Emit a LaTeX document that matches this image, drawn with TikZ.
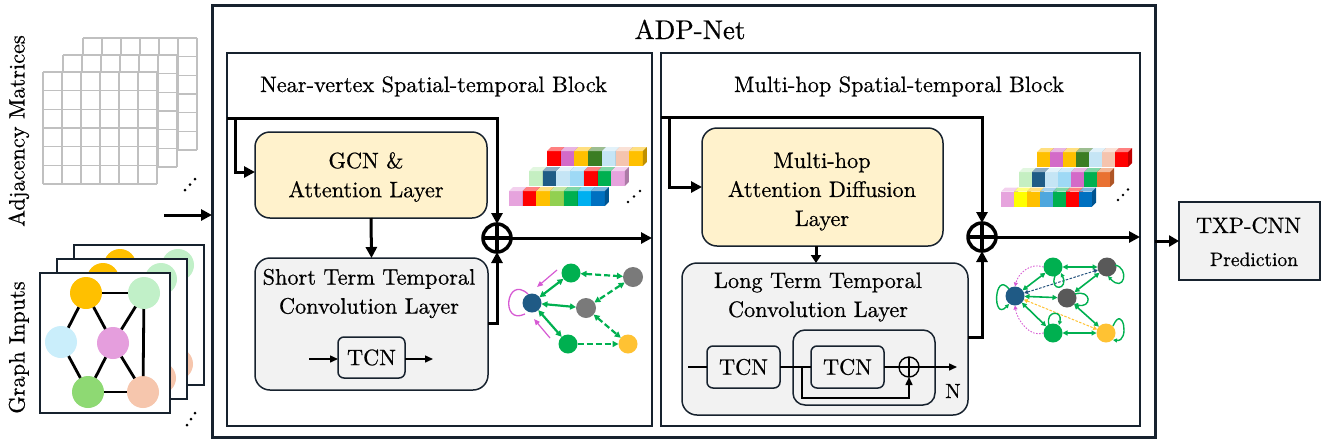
\documentclass[tikz,border=0pt]{standalone}
\usepackage{fontspec}
\newfontfamily\tms{lmroman10-regular.otf}[FakeBold=0.6]
\usetikzlibrary{arrows.meta,calc}
\definecolor{frm}{HTML}{17222E}
\definecolor{ylw}{HTML}{FFF2CC}
\definecolor{lgr}{HTML}{F2F2F2}
\definecolor{grn}{HTML}{00B050}
\definecolor{nbl}{HTML}{1F5A85}
\definecolor{ngy}{HTML}{7A7A7A}
\definecolor{ndg}{HTML}{595959}
\definecolor{ngd}{HTML}{FFC233}
\definecolor{mag}{HTML}{D65AD3}
\definecolor{gridc}{HTML}{C0C0C0}
\definecolor{dbl}{HTML}{1F4E79}
% graph input colours
\definecolor{gY}{HTML}{FFC000}
\definecolor{gLG}{HTML}{C1F0C8}
\definecolor{gLB}{HTML}{CAEEFB}
\definecolor{gPk}{HTML}{E59EDD}
\definecolor{gG}{HTML}{8ED973}
\definecolor{gPe}{HTML}{F6C6AD}
% cube colours
\definecolor{cRed}{HTML}{FF0000}
\definecolor{cOrch}{HTML}{D36AC8}
\definecolor{cGold}{HTML}{FFC000}
\definecolor{cDkG}{HTML}{3B7D23}
\definecolor{cLBl}{HTML}{C5E5F5}
\definecolor{cPeach}{HTML}{F5C4AE}
\definecolor{cLGr}{HTML}{C5EFC2}
\definecolor{cTeal}{HTML}{1F5C86}
\definecolor{cSky}{HTML}{9ED9F5}
\definecolor{cGrn}{HTML}{00B050}
\definecolor{cPink}{HTML}{E6A3DD}
\definecolor{cLime}{HTML}{92D050}
\definecolor{cCyan}{HTML}{00B0F0}
\definecolor{cBlue}{HTML}{0070C0}
\definecolor{cYel}{HTML}{FFFF00}
\definecolor{cSkyB}{HTML}{4EA7DE}
\definecolor{cOrg}{HTML}{E97132}
\newcommand{\cubeat}[4]{%
  \fill[#4] (#1,#2) rectangle ++(#3,15);
  \fill[#4!50!white] (#1,#2) -- ++(4,-4) -- ++(#3,0) -- ++(-4,4) -- cycle;
  \fill[#4!75!black] (#1+#3,#2) -- ++(4,-4) -- ++(0,15) -- ++(-4,4) -- cycle;
}
\begin{document}
\begin{tikzpicture}[x=1pt,y=-1pt,
  font=\tms\fontsize{22.3}{29}\selectfont,
  every node/.style={inner sep=0pt, outer sep=0pt},
  arr/.style={line width=3pt, -{Triangle[length=11pt,width=11pt]}},
  thinarr/.style={line width=1.5pt, -{Triangle[length=8pt,width=7pt]}},
  thinln/.style={line width=1.5pt},
  rbox/.style={draw=frm, line width=1.5pt, rounded corners=15pt},
  tbox/.style={draw=frm, line width=1.5pt, rounded corners=6pt, fill=lgr, minimum width=73pt, minimum height=42pt},
  oplus/.style={circle, draw=black, line width=3.5pt, minimum size=28pt,
    path picture={\draw[line width=3.5pt] (path picture bounding box.north) -- (path picture bounding box.south) (path picture bounding box.west) -- (path picture bounding box.east);}},
  soplus/.style={circle, draw=black, line width=1.4pt, minimum size=20pt,
    path picture={\draw[line width=1.4pt] (path picture bounding box.north) -- (path picture bounding box.south) (path picture bounding box.west) -- (path picture bounding box.east);}},
  gn/.style={circle, minimum size=32pt},
  gedge/.style={line width=2.8pt, black},
  sn/.style={circle, minimum size=19pt},
  ge/.style={line width=2.2pt, grn, {Triangle[length=6pt,width=6pt]}-{Triangle[length=6pt,width=6pt]}},
  ged/.style={ge, dash pattern=on 6pt off 3pt},
  gedone/.style={line width=2.2pt, grn, dash pattern=on 6pt off 3pt, -{Triangle[length=6pt,width=6pt]}},
  ge2/.style={line width=1.6pt, grn, {Triangle[length=5pt,width=5pt]}-{Triangle[length=5pt,width=5pt]}},
  gl/.style={line width=1.4pt, grn, -{Triangle[length=4pt,width=4pt]}},
  dotc/.style={black}
]
\useasboundingbox (0,0) rectangle (1325,445);

% ---------- left side texts ----------
\node[rotate=90, anchor=base] (adjt) at (24.5,131) {Adjacency Matrices};
\node[rotate=90, anchor=base] (grpt) at (24.5,347.5) {Graph Inputs};

% ---------- adjacency matrices ----------
\foreach \ox/\oy in {83/38, 63/55, 43/72} {
  \fill[white] (\ox,\oy) rectangle ++(114,112);
  \foreach \k in {0,...,6} {
    \draw[gridc, line width=1.1pt] (\ox+\k*19,\oy) -- ++(0,112);
    \draw[gridc, line width=1.1pt] (\ox,\oy+\k*18.667) -- ++(114,0);
  }
}
\fill[dotc] (185,190) circle (1.5) (190,184.5) circle (1.5) (195,179) circle (1.5);

% ---------- graph inputs ----------
\foreach \fx/\fy/\nm in {74/245/c, 57/259/b, 40/273/a} {
  \begin{scope}[shift={(\fx,\fy)}]
    \fill[white] (0,0) rectangle (130,140);
    \begin{scope}
      \clip (0,0) rectangle (130,140);
      \node[gn, fill=gY]  (\nm-y)  at (46,20) {};
      \node[gn, fill=gLG] (\nm-lg) at (104,20) {};
      \node[gn, fill=gLB] (\nm-lb) at (21,69) {};
      \node[gn, fill=gPk] (\nm-pk) at (73,70) {};
      \node[gn, fill=gG]  (\nm-g)  at (48,119) {};
      \node[gn, fill=gPe] (\nm-pe) at (103,119) {};
      \draw[gedge] (\nm-y) -- (\nm-lg);
      \draw[gedge] (\nm-y) -- (\nm-lb);
      \draw[gedge] (\nm-y) -- (\nm-pk);
      \draw[gedge] (\nm-lg) -- (\nm-pk);
      \draw[gedge] (\nm-lg) -- (\nm-pe);
      \draw[gedge] (\nm-lb) -- (\nm-g);
      \draw[gedge] (\nm-pk) -- (\nm-g);
      \draw[gedge] (\nm-pk) -- (\nm-pe);
      \draw[gedge] (\nm-g) -- (\nm-pe);
    \end{scope}
    \draw[frm, line width=2.5pt] (0,0) rectangle (130,140);
  \end{scope}
}
\fill[dotc] (187,425) circle (1.5) (191,419) circle (1.5) (195,413) circle (1.5);

% ---------- main frame and blocks ----------
\node[draw=frm, line width=3pt, minimum width=943pt, minimum height=432pt] (main) at (683.5,221) {};
\node[draw=frm, line width=1.8pt, minimum width=425pt, minimum height=373pt] (blk1) at (439.5,239.5) {};
\node[draw=frm, line width=1.8pt, minimum width=479pt, minimum height=373pt] (blk2) at (900.5,239.5) {};

\node[anchor=base, font=\tms\fontsize{27}{32}\selectfont] (title) at (690,39) {ADP-Net};
\node[anchor=base] (t1) at (433.5,92) {Near-vertex Spatial-temporal Block};
\node[anchor=base] (t2) at (899,92) {Multi-hop Spatial-temporal Block};

\coordinate (in0) at (164,215);
\draw[arr] (in0) -- (in0 -| main.west);

% ---------- block 1 ----------
\node[rbox, fill=ylw, minimum width=232pt, minimum height=86pt] (gcn) at (371,175) {};
\node[align=center] (gcnt) at (366,177) {GCN \&\\Attention Layer};
\node[rbox, fill=lgr, minimum width=233pt, minimum height=132pt] (stbox) at (371.5,324) {};
\node[align=center] (stt) at (369,293.5) {Short Term Temporal\\Convolution Layer};
\node[tbox, minimum width=67pt, minimum height=41pt] (tcnA) at (371.5,357.5) {TCN};
\coordinate (ta0) at (309,359);
\coordinate (ta1) at (433,359);
\draw[thinarr] (ta0) -- (ta0 -| tcnA.west);
\draw[thinarr] (ta1 -| tcnA.east) -- (ta1);

\node[oplus] (op1) at (497,238) {};
\coordinate (s1) at (227,118);
\coordinate (s1b) at (235,118);
\draw[arr] (s1) -| (op1.north);
\draw[arr] (s1b) |- ([yshift=3pt]gcn.west);
\draw[arr] (gcn.south) -- (stbox.north);
\draw[arr] ([yshift=1pt]stbox.east) -| (op1.south);
\draw[arr] (op1.east) -- (op1.east -| blk1.east);

% cubes block 1
\foreach \c [count=\i from 0] in {cRed,cOrch,cGold,cDkG,cLBl,cPeach,cGold} {\cubeat{547+\i*13.7}{151}{13.7}{\c}}
\foreach \c [count=\i from 0] in {cLGr,cTeal,cLBl,cSky,cRed,cGrn,cPink} {\cubeat{529+\i*13.7}{171}{13.7}{\c}}
\foreach \c [count=\i from 0] in {cPink,cRed,cGold,cLime,cGrn,cCyan,cBlue} {\cubeat{509+\i*13.7}{191}{13.7}{\c}}
\fill[dotc] (628,202) circle (1.4) (634,196.5) circle (1.4) (640,191) circle (1.4);

% graph icon 1
\node[sn, fill=nbl] (g1b) at (532,303) {};
\node[sn, fill=grn] (g1t) at (571,273) {};
\node[sn, fill=ngy, minimum size=20pt] (g1r) at (633,277) {};
\node[sn, fill=ngy, minimum size=20pt] (g1m) at (586,308) {};
\node[sn, fill=grn] (g1d) at (568,344) {};
\node[sn, fill=ngd] (g1y) at (628,344) {};
\draw[ge] (g1b) -- (g1t);
\draw[ge] (g1b) -- (g1m);
\draw[ge] (g1b) -- (g1d);
\draw[ged] (g1t) -- (g1r);
\draw[ged] (g1r) -- (g1m);
\draw[ged] (g1m) -- (g1y);
\draw[gedone] (g1d) -- (g1y);
\draw[mag, line width=1.3pt] (528,294) .. controls (506,274) and (500,326) .. (525,314);
\coordinate (m1s) at (557,270); \coordinate (m1e) at (537,287);
\coordinate (m2s) at (550,338); \coordinate (m2e) at (534,319);
\draw[mag, line width=1.2pt, -{Triangle[length=6pt,width=5pt]}] (m1s) -- (m1e);
\draw[mag, line width=1.2pt, -{Triangle[length=6pt,width=5pt]}] (m2s) -- (m2e);

% ---------- block 2 ----------
\node[rbox, fill=ylw, minimum width=241pt, minimum height=118pt] (mh) at (822.5,187) {};
\node[align=center] (mht) at (822,191.5) {Multi-hop\\Attention Diffusion\\Layer};
\node[rbox, fill=lgr, minimum width=286pt, minimum height=152pt] (lt) at (825,339) {};
\node[align=center] (ltt) at (818,297) {Long Term Temporal\\Convolution Layer};
\node[draw=frm, line width=1.5pt, rounded corners=12pt, minimum width=142pt, minimum height=75pt] (nbox) at (864,367.5) {};
\node[tbox] (tcn1) at (743.5,367) {TCN};
\node[tbox] (tcn2) at (847.5,367) {TCN};
\node[soplus] (sop) at (909,367) {};
\node[anchor=base, font=\tms\fontsize{20.5}{24}\selectfont] (nlab) at (953,398) {N};
\coordinate (l0) at (688,367);
\coordinate (l1) at (957,367);
\coordinate (bp) at (802,367);
\draw[thinln] (l0) -- (tcn1.west);
\draw[thinln] (tcn1.east) -- (tcn2.west);
\draw[thinln] (tcn2.east) -- (sop.west);
\draw[thinarr] (sop.east) -- (l1);
\draw[thinarr] (bp) -- ++(0,31) -| (sop.south);

\node[oplus] (op2) at (982,237) {};
\coordinate (s2) at (661,117);
\coordinate (s2b) at (669,117);
\draw[arr] (s2) -| (op2.north);
\draw[arr] (s2b) |- (mh.west);
\draw[line width=3pt, -{Triangle[length=8pt,width=10pt]}] (mh.south -| 816,0) -- (lt.north -| 816,0);
\draw[arr] ([yshift=2pt]lt.east) -| (op2.south);
\draw[arr] (op2.east) -- (op2.east -| blk2.east);

% cubes block 2
\foreach \c [count=\i from 0] in {cGold,cOrch,cGold,cDkG,cLBl,cPeach,cRed} {\cubeat{1037+\i*13}{152}{13}{\c}}
\foreach \c [count=\i from 0] in {cLGr,cTeal,cLBl,cSky,cOrch,cGrn,cOrg} {\cubeat{1019+\i*13}{172}{13}{\c}}
\foreach \c [count=\i from 0] in {cPink,cYel,cGold,cSkyB,cGrn,cRed,cBlue} {\cubeat{1001+\i*13}{191.5}{13}{\c}}
\fill[dotc] (1118,200) circle (1.4) (1123,195) circle (1.4) (1128,189.5) circle (1.4);

% graph icon 2
\node[sn, fill=nbl] (g2b) at (1015,296) {};
\node[sn, fill=grn] (g2t) at (1053,267) {};
\node[sn, fill=ndg] (g2r) at (1107,267) {};
\node[sn, fill=ndg] (g2m) at (1067,298) {};
\node[sn, fill=grn] (g2d) at (1053,333) {};
\node[sn, fill=ngd] (g2y) at (1106,333) {};
\draw[ge2] (g2b) -- (g2t);
\draw[ge2] (g2b) -- (g2m);
\draw[ge2] (g2b) -- (g2d);
\draw[ge2] (g2t) -- (g2r);
\draw[ge2] (g2r) -- (g2m);
\draw[ge2] (g2m) -- (g2y);
\draw[ge2] (g2d) -- (g2y);
\draw[dbl, line width=1pt, dash pattern=on 2.5pt off 1.5pt, {Triangle[length=4pt,width=4pt]}-{Triangle[length=4pt,width=4pt]}] (g2b) -- (g2r);
\draw[ngd, line width=1pt, dash pattern=on 2.5pt off 1.5pt, {Triangle[length=4pt,width=4pt]}-{Triangle[length=4pt,width=4pt]}] (g2b) -- (g2y);
\draw[mag, line width=0.9pt, dash pattern=on 1.5pt off 1.5pt, -{Triangle[length=4pt,width=4pt]}] (g2t.west) .. controls (1030,262) and (1018,274) .. (g2b.north);
\draw[mag, line width=0.9pt, dash pattern=on 1.5pt off 1.5pt, -{Triangle[length=4pt,width=4pt]}] (g2d.west) .. controls (1030,338) and (1017,320) .. (g2b.south);
\draw[gl] (1009,289) .. controls (994,270) and (992,322) .. (1009,304);
\draw[gl] (1055,276) .. controls (1049,292) and (1069,290) .. (1061,273);
\draw[gl] (1115,265) .. controls (1130,268) and (1124,294) .. (1108,276);
\draw[gl] (1075,294) .. controls (1092,289) and (1092,309) .. (1074,304);
\draw[gl] (1049,325) .. controls (1045,310) and (1063,310) .. (1059,325);
\draw[gl] (1113,326) .. controls (1123,303) and (1130,342) .. (1113,340);

% ---------- TXP-CNN ----------
\node[draw=frm, line width=2.5pt, fill=lgr, minimum width=141pt, minimum height=78pt] (txp) at (1249.5,241) {};
\node[anchor=base] (txpt) at (1248.5,233) {TXP-CNN};
\node[anchor=base, font=\tms\fontsize{19.5}{24}\selectfont] (txpp) at (1254,266) {Prediction};
\draw[line width=3pt, -{Triangle[length=10pt,width=11pt]}] (main.east |- txp.west) -- (txp.west);
\end{tikzpicture}
\end{document}
